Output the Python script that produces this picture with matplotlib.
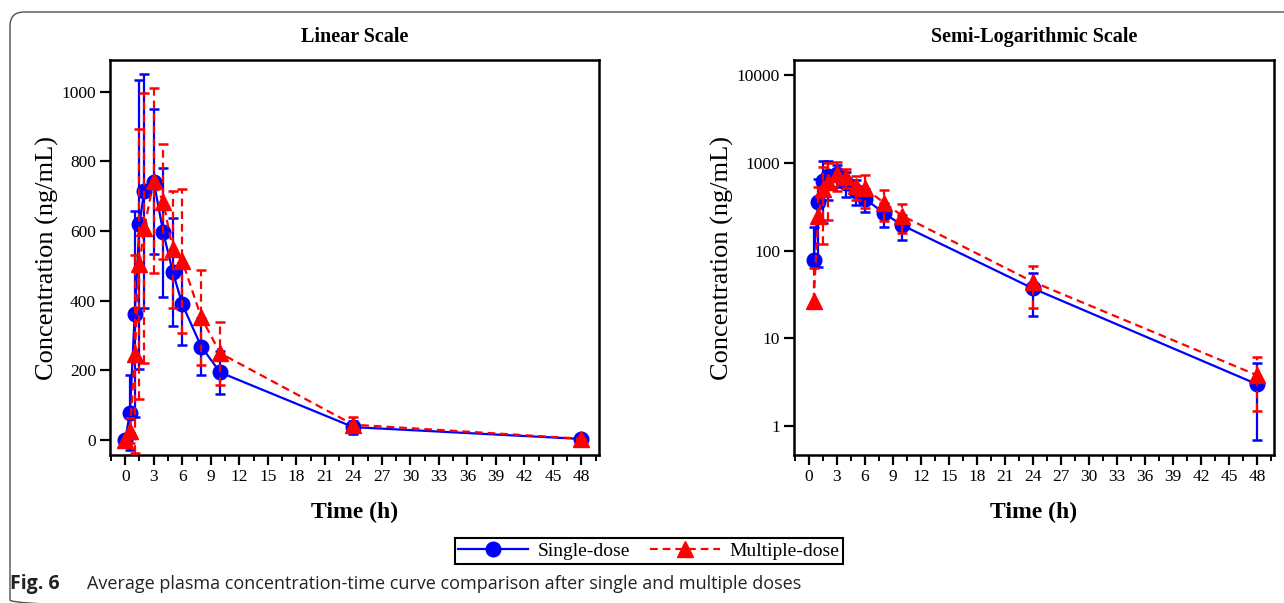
import numpy as np
import matplotlib
matplotlib.use("Agg")
import matplotlib.pyplot as plt
from matplotlib.lines import Line2D
from matplotlib.patches import FancyBboxPatch
from matplotlib.ticker import MultipleLocator, FixedLocator, FixedFormatter

# ---------------- data ----------------
time_h = [0, 0.5, 1, 1.5, 2, 3, 4, 5, 6, 8, 10, 24, 48]
single_mean = [0, 79, 361, 619, 715, 742, 596, 483, 390, 268, 194, 37, 3.0]
single_sd = [0, 108, 296, 415, 335, 207, 185, 155, 117, 81, 62, 19, 2.3]
multi_mean = [0, 27, 247, 505, 608, 745, 684, 547, 514, 352, 249, 44, 3.8]
multi_sd = [0, 36, 284, 387, 387, 265, 165, 167, 208, 137, 90, 22, 2.3]

x_ticks = list(range(0, 49, 3))
x_labels = [str(v) for v in x_ticks]
lin_yticks = [0, 200, 400, 600, 800, 1000]
lin_ylabels = ["0", "200", "400", "600", "800", "1000"]
log_yticks = [1, 10, 100, 1000, 10000]
log_ylabels = ["1", "10", "100", "1000", "10000"]
titles = ["Linear Scale", "Semi-Logarithmic Scale"]
series_labels = ["Single-dose", "Multiple-dose"]
caption_bold = "Fig. 6"
caption_text = "Average plasma concentration-time curve comparison after single and multiple doses"

W, H = 1284, 603
SERIF = ["Liberation Serif", "DejaVu Serif"]
plt.rcParams["font.family"] = SERIF
plt.rcParams["font.serif"] = SERIF

fig = plt.figure(figsize=(W / 100, H / 100), dpi=100)

# outer frame (rounded, partially visible)
bg = fig.add_axes([0, 0, 1, 1], zorder=-5)
bg.set_xlim(0, W)
bg.set_ylim(H, 0)
bg.axis("off")
bg.add_patch(FancyBboxPatch((10, 12), 1400, 602, boxstyle="round,pad=0,rounding_size=14",
                            fill=False, ec="#505050", lw=1.0))

ax1 = fig.add_axes([110 / W, 1 - 455 / H, 488.6 / W, 395 / H])
ax2 = fig.add_axes([794 / W, 1 - 455 / H, 480 / W, 395 / H])

BLUE = "#0000FF"
RED = "#FF0000"
series = [
    (np.array(single_mean, float), np.array(single_sd, float), BLUE, "-", "o", 10.5, 2),
    (np.array(multi_mean, float), np.array(multi_sd, float), RED, (0, (3.5, 2.2)), "^", 11.5, 3),
]
t = np.array(time_h, float)


def draw(ax, log):
    if log:
        ax.set_yscale("log", nonpositive="mask")
    for mean, sd, color, ls, marker, ms, z in series:
        hi = mean + sd
        lo = mean - sd
        if log:
            ok = mean > 0
            lo_bar = np.where(lo > 0, lo, mean)
            ax.vlines(t[ok], lo_bar[ok], hi[ok], colors=color, linestyles=ls, lw=1.6, zorder=z)
            ax.plot(t[ok], hi[ok], ls="none", marker="_", ms=7, mew=1.8, color=color, zorder=z)
            okl = ok & (lo > 0)
            ax.plot(t[okl], lo[okl], ls="none", marker="_", ms=7, mew=1.8, color=color, zorder=z)
            ax.plot(t[ok], mean[ok], ls=ls, color=color, lw=1.6, marker=marker, ms=ms,
                    mec=color, mfc=color, zorder=z)
        else:
            ok = sd > 0
            ax.vlines(t[ok], lo[ok], hi[ok], colors=color, linestyles=ls, lw=1.6, zorder=z)
            ax.plot(t[ok], hi[ok], ls="none", marker="_", ms=7, mew=1.8, color=color, zorder=z)
            ax.plot(t[ok], lo[ok], ls="none", marker="_", ms=7, mew=1.8, color=color, zorder=z)
            ax.plot(t, mean, ls=ls, color=color, lw=1.6, marker=marker, ms=ms,
                    mec=color, mfc=color, zorder=z)

    ax.set_xlim(-1.6, 49.8)
    ax.xaxis.set_major_locator(FixedLocator(x_ticks))
    ax.xaxis.set_major_formatter(FixedFormatter(x_labels))
    ax.xaxis.set_minor_locator(MultipleLocator(1.5))
    if log:
        ax.set_ylim(0.47, 14800)
        ax.yaxis.set_major_locator(FixedLocator(log_yticks))
        ax.yaxis.set_major_formatter(FixedFormatter(log_ylabels))
        ax.yaxis.set_minor_locator(FixedLocator([]))
    else:
        ax.set_ylim(-43, 1091)
        ax.yaxis.set_major_locator(FixedLocator(lin_yticks))
        ax.yaxis.set_major_formatter(FixedFormatter(lin_ylabels))
    for s in ax.spines.values():
        s.set_linewidth(1.8)
    ax.tick_params(which="major", direction="out", length=7, width=1.6, labelsize=12.5, pad=3,
                   labelfontfamily="Liberation Serif")
    ax.tick_params(which="minor", direction="out", length=4, width=1.4)
    ax.set_xlabel("Time (h)", fontsize=17, fontweight="bold", labelpad=12)
    ax.set_ylabel("Concentration (ng/mL)", fontsize=19, labelpad=2)


draw(ax1, False)
draw(ax2, True)
ax1.set_title(titles[0], fontsize=14.5, fontweight="bold", pad=13)
ax2.set_title(titles[1], fontsize=14.5, fontweight="bold", pad=13)

handles = [
    Line2D([], [], color=BLUE, ls="-", lw=1.6, marker="o", ms=10.5),
    Line2D([], [], color=RED, ls=(0, (3.5, 2.2)), lw=1.6, marker="^", ms=11.5),
]
leg = fig.legend(handles, series_labels, loc="center", bbox_to_anchor=(649 / W, 1 - 551 / H),
                 ncol=2, frameon=True, fancybox=False, edgecolor="black", framealpha=1,
                 prop={"family": SERIF, "size": 14}, handlelength=3.6, columnspacing=1.0,
                 handletextpad=0.5, borderpad=0.2, borderaxespad=0)
leg.get_frame().set_linewidth(1.5)

fig.text(10 / W, 1 - 584 / H, caption_bold, fontsize=14, fontweight="bold",
         family=["Open Sans", "DejaVu Sans"], va="center", ha="left", color="#222222")
fig.text(87 / W, 1 - 584 / H, caption_text, fontsize=13,
         family=["Open Sans", "DejaVu Sans"], va="center", ha="left", color="#222222")

fig.savefig("out.png", dpi=100)
